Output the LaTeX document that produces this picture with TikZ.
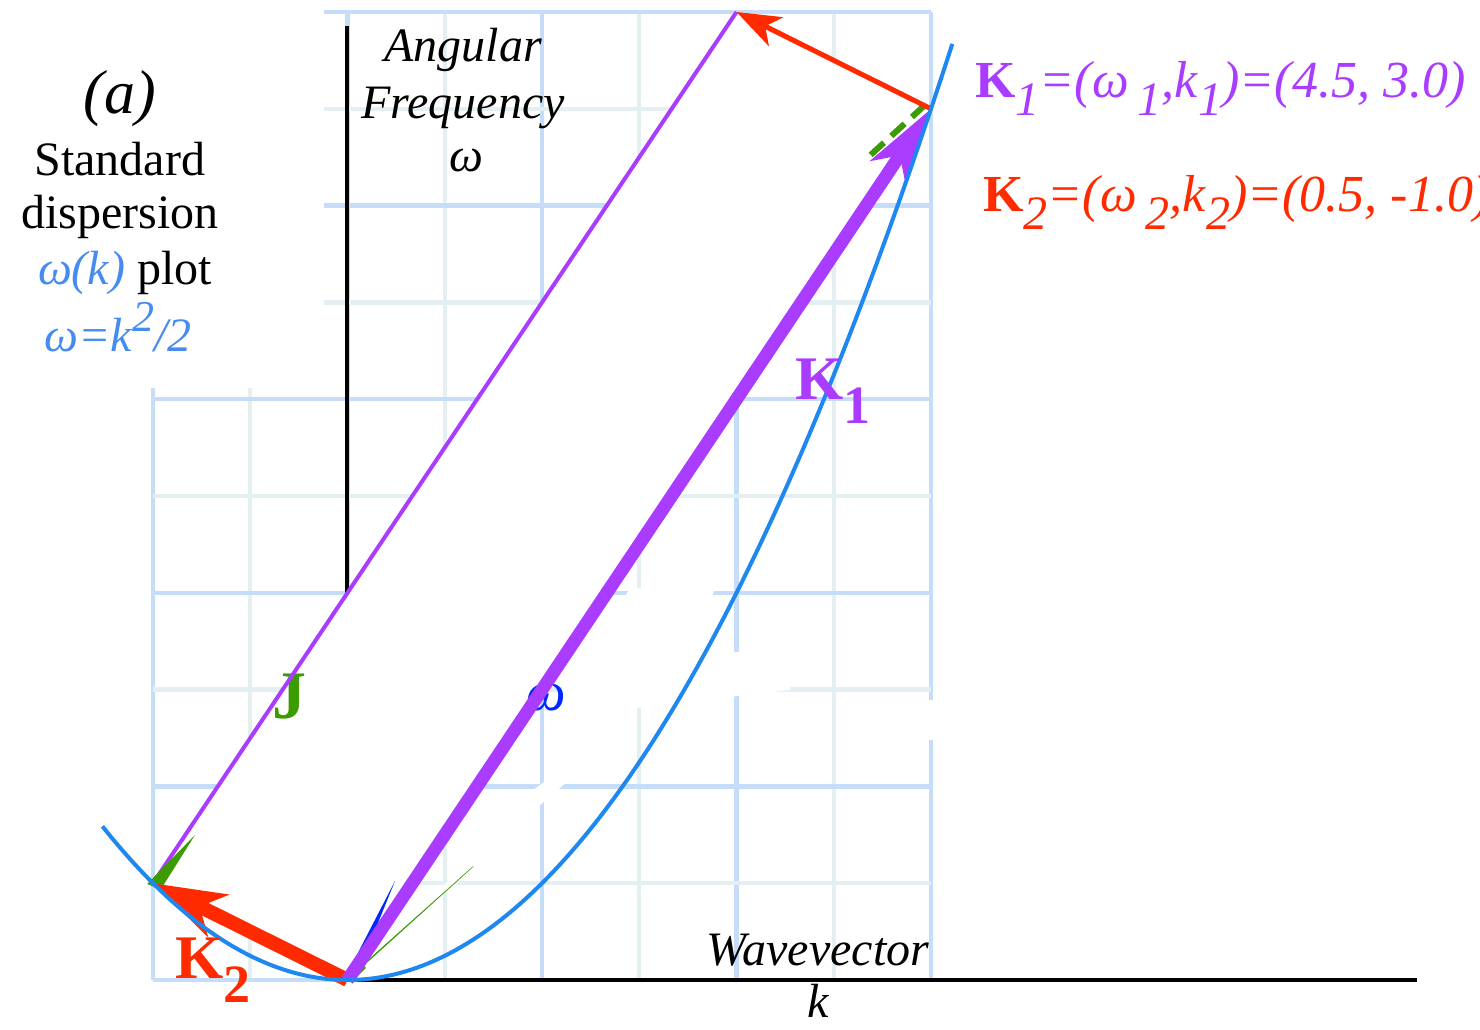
\documentclass[tikz,border=0pt]{standalone}
\usepackage{fontspec}
\setmainfont{Liberation Serif}
\usetikzlibrary{arrows.meta}
\definecolor{kpurple}{RGB}{170,60,255}
\definecolor{kred}{RGB}{255,42,0}
\definecolor{kblue}{RGB}{30,136,240}
\definecolor{tblue}{RGB}{70,140,240}
\definecolor{kgreen}{RGB}{60,155,0}
\definecolor{dblue}{RGB}{0,40,255}
\definecolor{gridmajor}{RGB}{197,221,248}
\definecolor{gridminor}{RGB}{228,239,241}
\newcommand{\fsub}[1]{\raisebox{-9pt}{\fontsize{24}{24}\selectfont\textit{#1}}}
\newcommand{\bsub}[1]{\raisebox{-12pt}{\fontsize{27}{27}\selectfont #1}}
\begin{document}
\begin{tikzpicture}[x=97.25pt,y=96.8pt,
  major/.style={gridmajor,line width=2.2pt},
  minor/.style={gridminor,line width=2.2pt},
  lbl/.style={font=\fontsize{24}{28}\selectfont, inner sep=0pt, anchor=base},
  bigk/.style={font=\fontsize{31}{34}\selectfont\bfseries, inner sep=0pt, anchor=base west},
  formula/.style={font=\fontsize{26}{30}\selectfont, inner sep=0pt, anchor=base west},
  whiteout/.style={fill=white, draw=none}]
\useasboundingbox (-1.7866,-0.2531) rectangle (5.8226,5.0620);
% ---- grid (lower part)
\foreach \k in {-1,0,1,2,3} \draw[major] (\k,0) -- (\k,3.06);
\foreach \k in {-0.5,0.5,1.5,2.5} \draw[minor] (\k,0) -- (\k,3.06);
\foreach \w in {0,1,2,3} \draw[major] (-1,\w) -- (3,\w);
\foreach \w in {0.5,1.5,2.5} \draw[minor] (-1,\w) -- (3,\w);
% ---- grid (upper part)
\foreach \k in {0,1,2,3} \draw[major] (\k,2.97) -- (\k,5);
\foreach \k in {0.5,1.5,2.5} \draw[minor] (\k,2.97) -- (\k,5);
\foreach \w in {3,4,5} \draw[major] (-0.123,\w) -- (3,\w);
\foreach \w in {3.5,4.5} \draw[minor] (-0.123,\w) -- (3,\w);
% ---- key points
\coordinate (O) at (0,0);
\coordinate (K1) at (3,4.5);
\coordinate (K2) at (-1,0.5);
\coordinate (S) at (2,5);
\coordinate (ytop) at (0,4.93);
\coordinate (xend) at (5.497,0);
% ---- axes
\draw[black,line width=2pt] (O) -- (ytop);
\draw[black,line width=2pt] (O) -- (xend);
% ---- white cover
\fill[white] (O) -- (K1) -- (S) -- (K2) -- cycle;
\fill[whiteout] (1.452,2.025) -- (1.889,2.035) -- (1.812,1.705) -- (2.275,1.679) -- (2.275,1.498)
   -- (1.298,1.384) -- (1.015,1.364) -- (1.093,1.498) -- (1.298,1.756) -- cycle;
\fill[whiteout] (0.887,0.930) -- (1.093,1.085) -- (1.170,1.059) -- (0.990,0.904) -- cycle;
\fill[whiteout] (2.965,1.446) rectangle (3.037,1.240);
% ---- fragments
\node[inner sep=0pt, anchor=base, text=kgreen, font=\fontsize{34}{34}\selectfont\bfseries] (J) at (-0.30,1.353) {J};
\node[inner sep=0pt, anchor=base, text=dblue, font=\fontsize{28}{28}\selectfont\itshape] (om) at (1.02,1.390) {ω};
% ---- thin purple side
\draw[kpurple,line width=2pt] (K2) -- (S);
% ---- green marks
\coordinate (ga) at (2.690,4.262);
\coordinate (gb) at (2.975,4.525);
\draw[kgreen,line width=3pt,dash pattern=on 9pt off 5pt] (ga) -- (gb);
\fill[kgreen] (-1.030,0.496) -- (-0.960,0.468) -- (-0.784,0.749) -- cycle;
\fill[kgreen] (-0.013,0.015) -- (0.028,-0.005) -- (0.095,0.062) -- (0.062,0.098) -- cycle;
\coordinate (gc) at (0.075,0.072);
\coordinate (gd) at (0.645,0.589);
\draw[kgreen,line width=0.8pt] (gc) -- (gd);
\coordinate (wa) at (0.095,0.114);
\coordinate (wb) at (0.650,0.610);
\draw[white,line width=2.5pt] (wa) -- (wb);
\fill[dblue] (-0.013,0.010) -- (0.090,0.129) -- (0.244,0.511) -- cycle;
% ---- vectors
\draw[kred,line width=2.5pt,-{Stealth[length=22pt,width=16pt,inset=6pt]}] (K1) -- (S);
\draw[kred,line width=7pt,-{Stealth[length=36pt,width=23pt,inset=10pt]}] (O) -- (K2);
\draw[kpurple,line width=6.5pt,-{Stealth[length=38pt,width=21pt,inset=10pt]}] (O) -- (K1);
% ---- dispersion curve
\draw[kblue,line width=2pt,domain=-1.26:3.11,samples=80,smooth] plot (\x,{\x*\x/2});
% ---- labels
\node[lbl,font=\fontsize{31}{33}\selectfont\itshape] (a) at (-1.170,4.478) {(a)};
\node[lbl] (t1) at (-1.170,4.158) {Standard};
\node[lbl] (t2) at (-1.170,3.884) {dispersion};
\node[lbl] (t3) at (-1.144,3.590) {\textcolor{tblue}{\itshape ω(k)} plot};
\node[lbl,text=tblue,font=\fontsize{24}{28}\selectfont\itshape] (t4) at (-1.180,3.244) {ω=k\raisebox{10pt}{\fontsize{22}{22}\selectfont 2}/2};
\node[lbl,font=\fontsize{24}{28}\selectfont\itshape] (ang) at (0.594,4.742) {Angular};
\node[lbl,font=\fontsize{24}{28}\selectfont\itshape] (frq) at (0.594,4.452) {Frequency};
\node[lbl,font=\fontsize{24}{28}\selectfont\itshape] (omg) at (0.614,4.174) {ω};
\node[lbl,font=\fontsize{24}{28}\selectfont\itshape] (wv) at (2.419,0.077) {Wavevector};
\node[lbl,font=\fontsize{24}{28}\selectfont\itshape] (kk) at (2.419,-0.196) {k};
\node[bigk,text=kpurple] (lk1) at (2.301,2.996) {K\bsub{1}};
\node[bigk,text=kred] (lk2) at (-0.887,0.010) {K\bsub{2}};
\node[formula,text=kpurple] (f1) at (3.226,4.556)
  {\textbf{K}\fsub{1}\textit{=(ω\,}\fsub{1}\textit{,k}\fsub{1}\textit{)=(4.5, 3.0)}};
\node[formula,text=kred] (f2) at (3.266,3.967)
  {\textbf{K}\fsub{2}\textit{=(ω\,}\fsub{2}\textit{,k}\fsub{2}\textit{)=(0.5, -1.0)}};
\end{tikzpicture}
\end{document}
